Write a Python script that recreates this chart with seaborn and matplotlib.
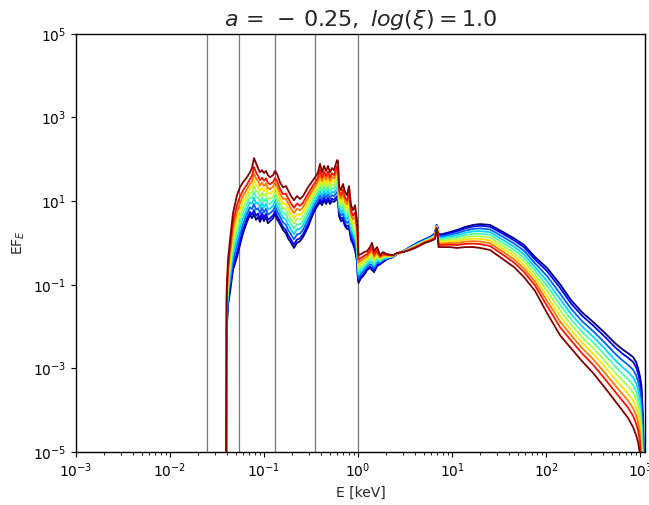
import numpy as np
import pandas as pd
import matplotlib
matplotlib.use("Agg")
import matplotlib.pyplot as plt
import seaborn as sns

# ---- data ----
energy_keV = [0.0394, 0.0401, 0.0414, 0.0435, 0.0468, 0.0516, 0.0555, 0.0598, 0.0659, 0.0710,
              0.0745, 0.0783, 0.0822, 0.0864, 0.0907, 0.0952, 0.100, 0.105, 0.110, 0.116,
              0.125, 0.131, 0.1375, 0.148, 0.159, 0.171, 0.180, 0.194, 0.2085, 0.224,
              0.2415, 0.260, 0.294, 0.332, 0.357, 0.375, 0.394, 0.414, 0.435, 0.457,
              0.480, 0.504, 0.529, 0.556, 0.598, 0.613, 0.628, 0.659, 0.692, 0.727,
              0.764, 0.802, 0.843, 0.885, 0.929, 0.976, 0.99, 1.01, 1.076, 1.158,
              1.247, 1.342, 1.409, 1.480, 1.592, 1.714, 1.845, 2.035, 2.357, 2.600,
              3.011, 3.574, 4.244, 5.163, 5.834, 6.595, 6.842, 7.01, 7.185, 7.83,
              9.52, 11.30, 13.75, 16.73, 19.86, 25.37, 34.87, 45.66, 58.34, 76.38,
              102.5, 140.9, 184.5, 241.5, 316.2, 424.4, 542.0, 643.5, 745.4, 842.5,
              906.6, 952.2, 1000.0, 1037.0, 1076.0, 1103.0, 1130.0]

# log10(EF_E) of the reddest model (top at low energies)
log_flux_red = [-7, -1.13, -0.41, 0.07, 0.71, 1.14, 1.33, 1.45, 1.57, 1.69,
                1.79, 2.03, 1.91, 1.79, 1.69, 1.74, 1.67, 1.72, 1.62, 1.57,
                1.62, 1.72, 1.65, 1.45, 1.33, 1.36, 1.26, 1.12, 1.02, 1.12,
                1.05, 1.12, 1.33, 1.50, 1.60, 1.69, 1.89, 1.69, 1.84, 1.72,
                1.84, 1.69, 1.79, 1.74, 1.98, 1.96, 1.36, 1.26, 1.41, 1.22,
                1.14, 1.36, 0.90, 0.78, 0.90, 0.55, 0.35, -0.29, -0.27, -0.22,
                -0.20, -0.10, 0.00, -0.20, -0.10, -0.29, -0.22, -0.27, -0.29, -0.24,
                -0.22, -0.17, -0.10, 0.00, 0.04, 0.09, 0.35, 0.26, -0.10, -0.10,
                -0.10, -0.12, -0.10, -0.10, -0.12, -0.17, -0.39, -0.58, -0.82, -1.15,
                -1.68, -2.21, -2.52, -2.83, -3.11, -3.47, -3.78, -4.00, -4.19, -4.41,
                -4.60, -4.77, -5.08, -6.2, -7, -7, -7]

# log10(EF_E) of the bluest model (top at high energies)
log_flux_blue = [-7, -2.09, -1.49, -1.18, -0.65, -0.34, -0.05, 0.23, 0.50, 0.67,
                 0.59, 0.69, 0.55, 0.62, 0.50, 0.64, 0.52, 0.62, 0.47, 0.52,
                 0.59, 0.69, 0.57, 0.45, 0.31, 0.23, 0.11, 0.00, -0.12, 0.00,
                 0.04, 0.14, 0.38, 0.69, 0.83, 0.90, 0.98, 0.90, 1.02, 0.93,
                 1.02, 0.93, 1.00, 0.98, 1.05, 1.02, 0.64, 0.52, 0.55, 0.40,
                 0.33, 0.35, 0.07, -0.03, -0.17, -0.46, -0.77, -0.96, -0.84, -0.77,
                 -0.65, -0.60, -0.65, -0.70, -0.56, -0.51, -0.46, -0.39, -0.34, -0.27,
                 -0.20, -0.10, 0.00, 0.09, 0.14, 0.23, 0.43, 0.38, 0.21, 0.21,
                 0.26, 0.31, 0.38, 0.43, 0.45, 0.43, 0.26, 0.11, -0.05, -0.34,
                 -0.60, -0.99, -1.37, -1.66, -1.89, -2.16, -2.40, -2.54, -2.64, -2.73,
                 -2.85, -3.00, -3.21, -3.45, -4.24, -5.67, -7]

# position of each model between the bluest (0) and reddest (1) spectrum
model_position = [0.0, 0.07, 0.18, 0.29, 0.40, 0.51, 0.62, 0.73, 0.84, 1.0]

vline_energies = [0.0248, 0.0542, 0.131, 0.349, 1.0]

title_text = r"$a\,=\,-\,0.25,\ log(\xi) = 1.0$"
xlabel_text = "E [keV]"
ylabel_text = r"EF$_E$"

# ---- build table ----
E = np.array(energy_keV)
lr = np.array(log_flux_red)
lb = np.array(log_flux_blue)
rows = []
for i, p in enumerate(model_position):
    lf = lb + p * (lr - lb)
    rows.append(pd.DataFrame({"E": E, "flux": 10.0 ** lf, "model": i}))
df = pd.concat(rows, ignore_index=True)

sns.set_style("ticks")
plt.rcParams["font.family"] = ["DejaVu Sans"]
plt.rcParams["axes.edgecolor"] = "black"
plt.rcParams["xtick.color"] = "black"
plt.rcParams["ytick.color"] = "black"
plt.rcParams["mathtext.fontset"] = "dejavusans"

fig = plt.figure(figsize=(6.49, 5.05), dpi=100)
ax = fig.add_axes([0.117, 0.105, 0.877, 0.828])

cmap = plt.get_cmap("jet")
palette = [cmap(k / (len(model_position) - 1)) for k in range(len(model_position))]

for x in vline_energies:
    ax.axvline(x, color="#777777", lw=0.9, zorder=1)

sns.lineplot(data=df, x="E", y="flux", hue="model", palette=palette,
             estimator=None, sort=False, legend=False, lw=1.3, ax=ax, zorder=2)

ax.set_xscale("log")
ax.set_yscale("log")
ax.set_xlim(1e-3, 1130)
ax.set_ylim(1e-5, 1e5)
ax.set_yticks([1e-5, 1e-3, 1e-1, 1e1, 1e3, 1e5])
ax.yaxis.set_minor_locator(matplotlib.ticker.NullLocator())
ax.set_xticks([1e-3, 1e-2, 1e-1, 1e0, 1e1, 1e2, 1e3])
ax.tick_params(axis="both", labelsize=10)
ax.set_xlabel(xlabel_text, fontsize=10)
ax.set_ylabel(ylabel_text, fontsize=10)
ax.set_title(title_text, fontsize=16)
for s in ax.spines.values():
    s.set_visible(True)
    s.set_linewidth(1.0)

fig.savefig("out.png", dpi=100)
